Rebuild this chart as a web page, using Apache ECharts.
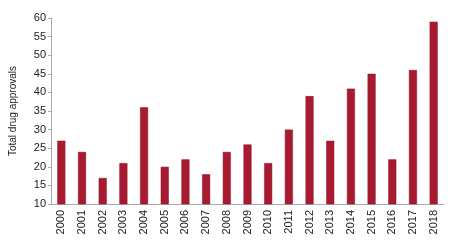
<!DOCTYPE html>
<html><head><meta charset="utf-8">
<script src="https://cdn.jsdelivr.net/npm/echarts@6/dist/echarts.min.js"></script>
<style>html,body{margin:0;padding:0;background:#fff}#c{width:450px;height:242px}</style>
</head><body><div id="c"></div>
<script>
const years = ['2000','2001','2002','2003','2004','2005','2006','2007','2008','2009','2010','2011','2012','2013','2014','2015','2016','2017','2018'];
const approvals = [27,24,17,21,36,20,22,18,24,26,21,30,39,27,41,45,22,46,59];
const yTicks = {min:10, max:60, interval:5};
const yName = 'Total drug approvals';
const chart = echarts.init(document.getElementById('c'));
chart.setOption({
  animation:false,
  grid:{left:45, right:6, top:18, bottom:38},
  xAxis:{type:'category', data:years,
    axisLine:{lineStyle:{color:'#aaaaaa', width:1}},
    axisTick:{show:false},
    axisLabel:{rotate:90, color:'#222', fontFamily:'Liberation Sans', fontSize:11, margin:6, interval:0}},
  yAxis:{type:'value', min:yTicks.min, max:yTicks.max, interval:yTicks.interval,
    name:yName, nameLocation:'middle', nameGap:33, nameRotate:90,
    nameTextStyle:{color:'#222', fontFamily:'Liberation Sans', fontSize:10},
    axisLine:{show:true, lineStyle:{color:'#aaaaaa'}},
    axisTick:{show:true, length:3, lineStyle:{color:'#aaaaaa'}},
    splitLine:{show:false},
    axisLabel:{color:'#222', fontFamily:'Liberation Sans', fontSize:11, margin:5}},
  series:[{type:'bar', data:approvals, barWidth:8,
    itemStyle:{color:'#a81a30', borderColor:'#8c1224', borderWidth:0.5}}]
});
</script></body></html>
